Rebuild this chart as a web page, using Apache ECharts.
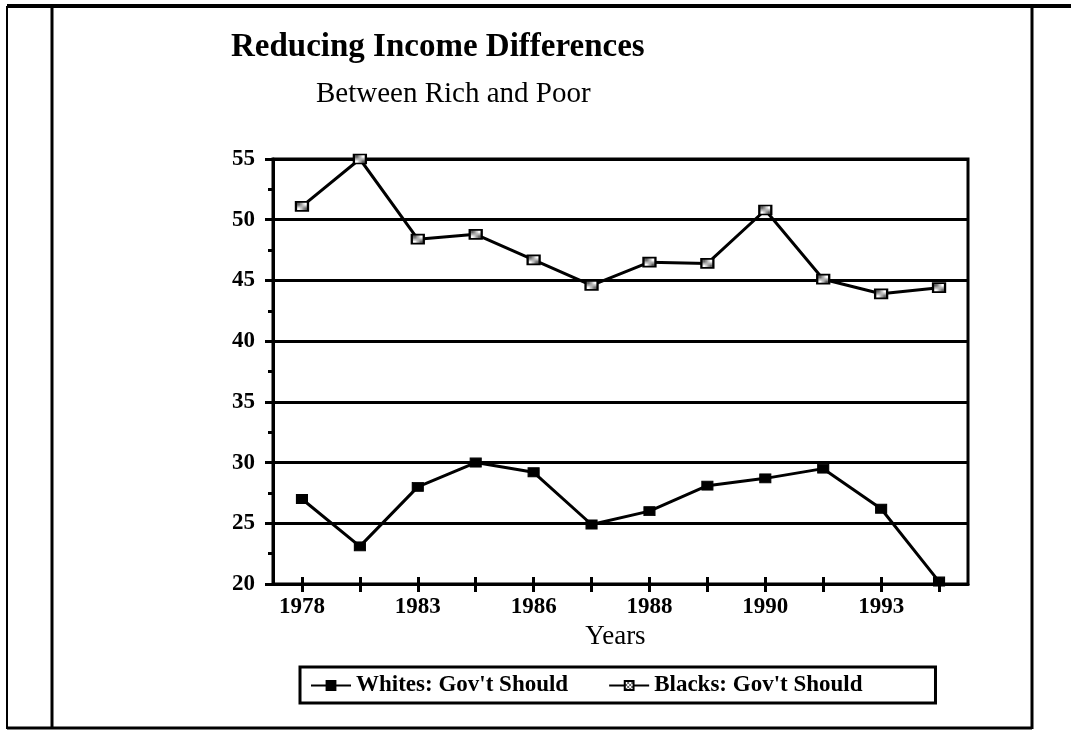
<!DOCTYPE html>
<html>
<head>
<meta charset="utf-8">
<script src="https://cdn.jsdelivr.net/npm/echarts@6/dist/echarts.min.js"></script>
<style>
  html, body { margin: 0; padding: 0; background: #fff; }
  #main { width: 1071px; height: 730px; }
</style>
</head>
<body>
<div id="main"></div>
<script>
// data
var years = ['1978', '1980', '1983', '1984', '1986', '1987', '1988', '1989', '1990', '1991', '1993', '1994'];
var whites = [27.0, 23.1, 28.0, 30.0, 29.2, 24.9, 26.0, 28.1, 28.7, 29.5, 26.2, 20.2];
var blacks = [51.1, 55.0, 48.4, 48.8, 46.7, 44.6, 46.5, 46.4, 50.8, 45.1, 43.9, 44.4];
var seriesNames = ["Whites: Gov't Should", "Blacks: Gov't Should"];
var yMin = 20, yMax = 55, yStep = 5;

var FONT = '"Liberation Serif", serif';

// checkered fill for the Blacks markers
function checker() {
    var c = document.createElement('canvas');
    c.width = 4; c.height = 4;
    var ctx = c.getContext('2d');
    ctx.fillStyle = '#fff';
    ctx.fillRect(0, 0, 4, 4);
    ctx.fillStyle = '#666';
    ctx.fillRect(0, 0, 2, 2);
    ctx.fillRect(2, 2, 2, 2);
    return c;
}

var chart = echarts.init(document.getElementById('main'));

var frameStyle = { stroke: '#000', lineWidth: 3 };
var tickLine = { color: '#000', width: 3 };

var option = {
    backgroundColor: '#fff',
    animation: false,
    title: [
        {
            text: 'Reducing Income Differences',
            left: 226, top: 26,
            textStyle: { fontFamily: FONT, fontSize: 33, fontWeight: 'bold', color: '#000' }
        },
        {
            text: 'Between Rich and Poor',
            left: 311, top: 75,
            textStyle: { fontFamily: FONT, fontSize: 29, fontWeight: 'normal', color: '#000' }
        }
    ],
    legend: {
        left: 300, top: 667,
        padding: [7, 73, 6, 10],
        borderColor: '#000', borderWidth: 3,
        itemWidth: 40, itemHeight: 11, itemGap: 40,
        textStyle: { fontFamily: FONT, fontSize: 23, fontWeight: 'bold', color: '#000' },
        data: seriesNames
    },
    grid: {
        left: 273, top: 159, width: 695, height: 425,
        show: true, borderColor: '#000', borderWidth: 3,
        containLabel: false
    },
    xAxis: [
        {
            type: 'category', data: years, boundaryGap: true, show: true,
            name: 'Years', nameLocation: 'middle', nameGap: 36,
            nameTextStyle: { fontFamily: FONT, fontSize: 27, color: '#000', padding: [0, 10, 0, 0] },
            axisLine: { show: true, lineStyle: { color: '#000', width: 3 } },
            axisTick: { show: true, alignWithLabel: true, interval: 0, length: 8, lineStyle: tickLine },
            axisLabel: { show: true, interval: 1, margin: 12, fontFamily: FONT, fontSize: 23, fontWeight: 'bold', color: '#000' },
            splitLine: { show: false }
        },
        {
            type: 'category', data: years, boundaryGap: true, position: 'bottom', show: true,
            axisLine: { show: false },
            axisTick: { show: true, alignWithLabel: true, interval: 0, inside: true, length: 7, lineStyle: tickLine },
            axisLabel: { show: false },
            splitLine: { show: false }
        }
    ],
    yAxis: [
        {
            type: 'value', min: yMin, max: yMax, interval: yStep, position: 'left', show: true,
            axisLine: { show: true, lineStyle: { color: '#000', width: 3 } },
            axisTick: { show: true, length: 8, lineStyle: tickLine },
            minorTick: { show: true, splitNumber: 2, length: 5, lineStyle: tickLine },
            axisLabel: { show: true, margin: 18, fontFamily: FONT, fontSize: 23, fontWeight: 'bold', color: '#000' },
            splitLine: { show: true, lineStyle: { color: '#000', width: 3 } }
        }
    ],
    series: [
        {
            name: seriesNames[0], type: 'line', data: whites,
            symbol: 'rect', symbolSize: [11, 9],
            lineStyle: { color: '#000', width: 3 },
            itemStyle: { color: '#000', borderColor: '#000', borderWidth: 1 },
            z: 3
        },
        {
            name: seriesNames[1], type: 'line', data: blacks,
            symbol: 'rect', symbolSize: [12, 9],
            lineStyle: { color: '#000', width: 3 },
            itemStyle: { color: { image: checker(), repeat: 'repeat' }, borderColor: '#000', borderWidth: 2 },
            z: 3
        }
    ],
    graphic: [
        { type: 'line', shape: { x1: 7, y1: 6, x2: 7, y2: 729 }, style: { stroke: '#000', lineWidth: 2 } },
        { type: 'line', shape: { x1: 52, y1: 6, x2: 52, y2: 729 }, style: frameStyle },
        { type: 'line', shape: { x1: 7, y1: 6, x2: 1071, y2: 6 }, style: { stroke: '#000', lineWidth: 4 } },
        { type: 'line', shape: { x1: 1032, y1: 6, x2: 1032, y2: 729 }, style: frameStyle },
        { type: 'line', shape: { x1: 7, y1: 728, x2: 1032, y2: 728 }, style: frameStyle }
    ]
};

chart.setOption(option);
</script>
</body>
</html>
